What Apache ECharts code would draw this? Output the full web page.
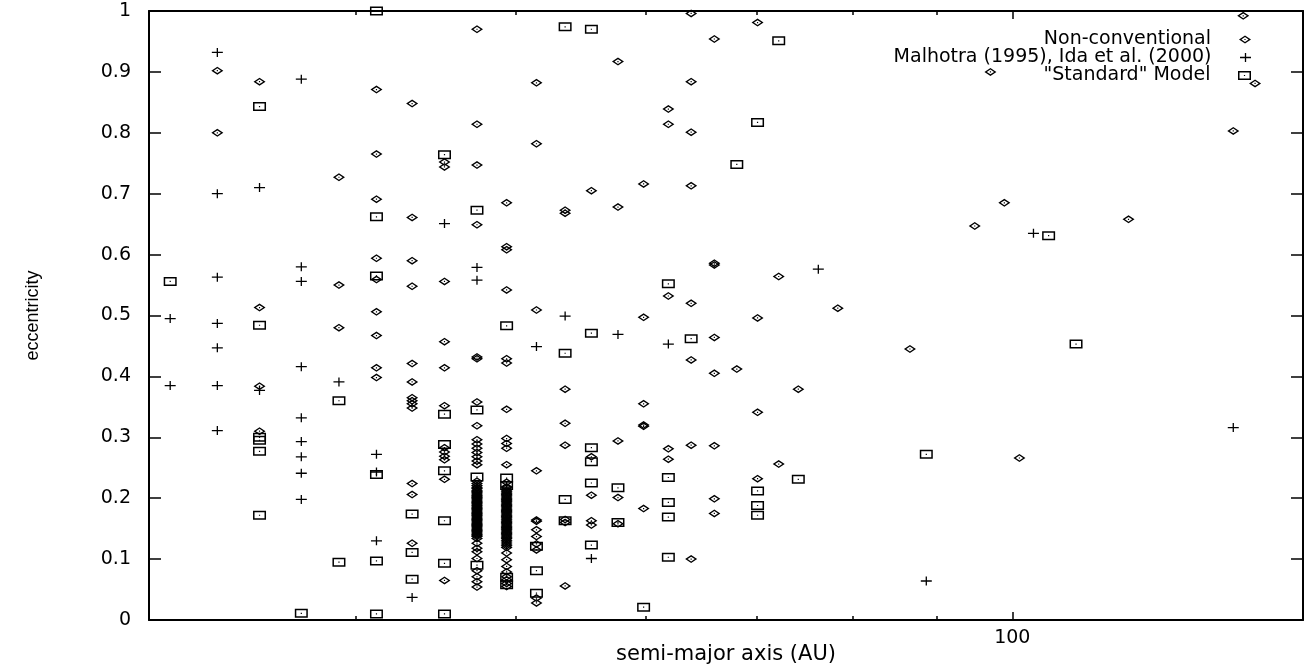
<!DOCTYPE html>
<html>
<head>
<meta charset="utf-8">
<script src="https://cdn.jsdelivr.net/npm/echarts@6/dist/echarts.min.js"></script>
<style>
  html, body { margin: 0; padding: 0; background: #fff; }
  #chart { width: 1308px; height: 670px; }
</style>
</head>
<body>
<div id="chart"></div>
<script>
// ---- Data: [semi-major axis (AU), eccentricity] ----
const nonConventional = [
  [33.0,0.902],[33.0,0.800],
  [35.0,0.884],[35.0,0.513],[35.0,0.384],[35.0,0.310],
  [39.1,0.727],[39.1,0.550],[39.1,0.480],
  [41.2,0.871],[41.2,0.765],[41.2,0.691],[41.2,0.594],[41.2,0.559],[41.2,0.506],[41.2,0.467],[41.2,0.414],[41.2,0.398],
  [43.3,0.848],[43.3,0.661],[43.3,0.590],[43.3,0.548],[43.3,0.421],[43.3,0.391],[43.3,0.365],[43.3,0.360],[43.3,0.355],[43.3,0.348],[43.3,0.224],[43.3,0.206],[43.3,0.126],
  [45.3,0.752],[45.3,0.744],[45.3,0.556],[45.3,0.457],[45.3,0.414],[45.3,0.352],[45.3,0.283],[45.3,0.276],[45.3,0.269],[45.3,0.263],[45.3,0.231],[45.3,0.065],
  [47.4,0.970],[47.4,0.814],[47.4,0.747],[47.4,0.649],[47.4,0.432],[47.4,0.429],[47.4,0.358],[47.4,0.319],[47.4,0.296],[47.4,0.289],[47.4,0.282],[47.4,0.275],[47.4,0.268],[47.4,0.261],[47.4,0.255],[47.4,0.228],
  [47.4,0.224],[47.4,0.221],[47.4,0.218],[47.4,0.216],[47.4,0.213],[47.4,0.211],[47.4,0.209],[47.4,0.207],[47.4,0.205],[47.4,0.203],[47.4,0.201],[47.4,0.199],[47.4,0.197],[47.4,0.195],[47.4,0.193],[47.4,0.191],[47.4,0.189],[47.4,0.187],[47.4,0.185],[47.4,0.183],[47.4,0.181],[47.4,0.179],[47.4,0.177],[47.4,0.175],[47.4,0.173],[47.4,0.171],[47.4,0.169],[47.4,0.167],[47.4,0.165],[47.4,0.163],[47.4,0.161],[47.4,0.159],[47.4,0.157],[47.4,0.155],[47.4,0.153],[47.4,0.151],[47.4,0.149],[47.4,0.147],[47.4,0.145],[47.4,0.143],[47.4,0.141],[47.4,0.139],[47.4,0.137],
  [47.4,0.134],[47.4,0.126],[47.4,0.118],[47.4,0.112],[47.4,0.101],[47.4,0.081],[47.4,0.071],[47.4,0.063],[47.4,0.054],
  [49.4,0.685],[49.4,0.613],[49.4,0.608],[49.4,0.542],[49.4,0.429],[49.4,0.422],[49.4,0.346],[49.4,0.298],[49.4,0.290],[49.4,0.282],[49.4,0.255],[49.4,0.226],
  [49.4,0.219],[49.4,0.217],[49.4,0.214],[49.4,0.212],[49.4,0.210],[49.4,0.208],[49.4,0.206],[49.4,0.204],[49.4,0.202],[49.4,0.200],[49.4,0.198],[49.4,0.196],[49.4,0.194],[49.4,0.192],[49.4,0.190],[49.4,0.188],[49.4,0.186],[49.4,0.184],[49.4,0.182],[49.4,0.180],[49.4,0.178],[49.4,0.176],[49.4,0.174],[49.4,0.172],[49.4,0.170],[49.4,0.168],[49.4,0.166],[49.4,0.164],[49.4,0.162],[49.4,0.160],[49.4,0.158],[49.4,0.156],[49.4,0.154],[49.4,0.152],[49.4,0.150],[49.4,0.148],[49.4,0.146],[49.4,0.144],[49.4,0.142],[49.4,0.140],[49.4,0.138],[49.4,0.136],[49.4,0.134],[49.4,0.131],[49.4,0.128],[49.4,0.125],[49.4,0.122],[49.4,0.119],
  [49.4,0.110],[49.4,0.099],[49.4,0.088],[49.4,0.079],[49.4,0.071],[49.4,0.066],[49.4,0.060],[49.4,0.055],
  [51.5,0.882],[51.5,0.782],[51.5,0.509],[51.5,0.245],[51.5,0.164],[51.5,0.162],[51.5,0.148],[51.5,0.137],[51.5,0.125],[51.5,0.115],[51.5,0.036],[51.5,0.028],
  [53.6,0.673],[53.6,0.668],[53.6,0.379],[53.6,0.323],[53.6,0.287],[53.6,0.165],[53.6,0.160],[53.6,0.056],
  [55.6,0.705],[55.6,0.268],[55.6,0.205],[55.6,0.163],[55.6,0.156],
  [57.7,0.917],[57.7,0.678],[57.7,0.294],[57.7,0.201],[57.7,0.158],
  [59.8,0.716],[59.8,0.497],[59.8,0.355],[59.8,0.320],[59.8,0.318],[59.8,0.183],
  [61.9,0.839],[61.9,0.814],[61.9,0.532],[61.9,0.281],[61.9,0.264],
  [63.9,0.996],[63.9,0.884],[63.9,0.801],[63.9,0.713],[63.9,0.520],[63.9,0.427],[63.9,0.287],[63.9,0.100],
  [66.0,0.954],[66.0,0.586],[66.0,0.583],[66.0,0.464],[66.0,0.405],[66.0,0.286],[66.0,0.199],[66.0,0.175],
  [68.1,0.412],
  [70.1,0.981],[70.1,0.496],[70.1,0.341],[70.1,0.232],
  [72.2,0.564],[72.2,0.256],
  [74.2,0.379],
  [78.4,0.512],
  [86.7,0.445],
  [94.9,0.647],
  [97.0,0.900],
  [98.9,0.685],
  [101.0,0.266],
  [117.6,0.658],
  [136.1,0.803],
  [138.0,0.992],
  [140.3,0.881]
];

const malhotraIda = [
  [30.9,0.495],[30.9,0.385],
  [33.0,0.932],[33.0,0.700],[33.0,0.563],[33.0,0.487],[33.0,0.447],[33.0,0.385],[33.0,0.311],
  [35.0,0.710],[35.0,0.377],
  [37.1,0.888],[37.1,0.580],[37.1,0.556],[37.1,0.416],[37.1,0.332],[37.1,0.293],[37.1,0.268],[37.1,0.241],[37.1,0.198],
  [39.1,0.391],
  [41.2,0.272],[41.2,0.243],[41.2,0.130],
  [43.3,0.037],
  [45.3,0.651],
  [47.4,0.579],[47.4,0.558],
  [51.5,0.449],
  [53.6,0.499],
  [55.6,0.101],
  [57.7,0.469],
  [61.9,0.453],
  [76.3,0.576],
  [88.7,0.064],
  [103.0,0.635],
  [136.1,0.316]
];

const standardModel = [
  [30.9,0.556],
  [35.0,0.843],[35.0,0.484],[35.0,0.300],[35.0,0.295],[35.0,0.277],[35.0,0.172],
  [37.1,0.011],
  [39.1,0.360],[39.1,0.095],
  [41.2,1.000],[41.2,0.662],[41.2,0.565],[41.2,0.239],[41.2,0.097],[41.2,0.010],
  [43.3,0.174],[43.3,0.111],[43.3,0.067],
  [45.3,0.764],[45.3,0.338],[45.3,0.288],[45.3,0.245],[45.3,0.163],[45.3,0.093],[45.3,0.010],
  [47.4,0.673],[47.4,0.345],[47.4,0.235],[47.4,0.090],
  [49.4,0.483],[49.4,0.233],[49.4,0.221],[49.4,0.070],[49.4,0.058],
  [51.5,0.121],[51.5,0.081],[51.5,0.044],
  [53.6,0.974],[53.6,0.438],[53.6,0.198],[53.6,0.163],
  [55.6,0.970],[55.6,0.471],[55.6,0.283],[55.6,0.260],[55.6,0.225],[55.6,0.123],
  [57.7,0.217],[57.7,0.160],
  [59.8,0.021],
  [61.9,0.552],[61.9,0.234],[61.9,0.193],[61.9,0.169],[61.9,0.103],
  [63.9,0.462],
  [68.1,0.748],
  [70.1,0.817],[70.1,0.212],[70.1,0.188],[70.1,0.172],
  [72.2,0.951],
  [74.2,0.231],
  [88.7,0.272],
  [105.2,0.631],
  [109.3,0.453]
];

const seriesNames = ['Non-conventional', 'Malhotra (1995), Ida et al. (2000)', '"Standard" Model'];
const xLabelTicks = [100];
const xMinorTicks = [40, 50, 60, 70, 80, 90];
const xRange = [30, 150];
const yRange = [0, 1];
const yStep = 0.1;

// ---- Marker shapes (gnuplot-like hollow symbols with centre dot) ----
const diamondPath = 'path://M0,-4L6,0L0,4L-6,0ZM0,-2.4L-3.6,0L0,2.4L3.6,0ZM-0.6,-0.6L0.6,-0.6L0.6,0.6L-0.6,0.6Z';
const squarePath  = 'path://M-6.5,-4.5L6.5,-4.5L6.5,4.5L-6.5,4.5ZM-5.0,-3.0L-5.0,3.0L5.0,3.0L5.0,-3.0ZM-0.6,-0.6L0.6,-0.6L0.6,0.6L-0.6,0.6Z';
const plusPath    = 'path://M-5.5,-0.65L-0.65,-0.65L-0.65,-4.5L0.65,-4.5L0.65,-0.65L5.5,-0.65L5.5,0.65L0.65,0.65L0.65,4.5L-0.65,4.5L-0.65,0.65L-5.5,0.65Z';

const FONT = 'DejaVu Sans';
const chart = echarts.init(document.getElementById('chart'), null, { renderer: 'canvas' });

function xAxisDef(pos, major, showLine) {
  return {
    type: 'log', logBase: 10, min: xRange[0], max: xRange[1], position: pos,
    axisLine: { show: showLine, onZero: false, lineStyle: { color: '#000', width: 2 } },
    axisTick: { show: true, inside: true, length: major ? 8 : 4,
                customValues: major ? xLabelTicks : xMinorTicks,
                lineStyle: { color: '#000', width: 1.5 } },
    axisLabel: { show: false },
    minorTick: { show: false }, splitLine: { show: false }, minorSplitLine: { show: false }
  };
}

const xBottom = xAxisDef('bottom', true, true);
xBottom.axisLabel = { show: true, customValues: xLabelTicks, margin: 9, color: '#000', fontFamily: FONT, fontSize: 19 };
xBottom.name = 'semi-major axis (AU)';
xBottom.nameLocation = 'middle';
xBottom.nameGap = 24;
xBottom.nameMoveOverlap = false;
xBottom.nameTextStyle = { color: '#000', fontFamily: FONT, fontSize: 21 };

function yAxisDef(pos, labels) {
  const a = {
    type: 'value', min: yRange[0], max: yRange[1], interval: yStep, position: pos,
    axisLine: { show: true, onZero: false, lineStyle: { color: '#000', width: 2 } },
    axisTick: { show: true, inside: true, length: 12, lineStyle: { color: '#000', width: 1.5 } },
    axisLabel: { show: labels, margin: 18, color: '#000', fontFamily: FONT, fontSize: 19 },
    splitLine: { show: false }
  };
  if (labels) {
    a.name = 'eccentricity';
    a.nameLocation = 'middle';
    a.nameGap = 107;
    a.nameMoveOverlap = false;
    a.nameTextStyle = { color: '#000', fontFamily: 'Liberation Sans', fontSize: 18 };
  }
  return a;
}

const icons = [diamondPath, plusPath, squarePath];
const iconSizes = [[58, 8], [58, 9], [58, 9]];
const legends = seriesNames.map((n, i) => ({
  data: [n], orient: 'vertical', right: 57, top: 30 + 18 * i, align: 'right',
  icon: icons[i], itemWidth: iconSizes[i][0], itemHeight: iconSizes[i][1],
  itemGap: 0, padding: 0, selectedMode: false,
  textStyle: { color: '#000', fontFamily: FONT, fontSize: 19 }
}));

const seriesData = [nonConventional, malhotraIda, standardModel];
const symSizes = [[12, 8], [11, 9], [13, 9]];

const option = {
  backgroundColor: '#fff',
  animation: false,
  grid: { left: 149, right: 5, top: 11, bottom: 50, containLabel: false, outerBoundsMode: 'none' },
  legend: legends,
  xAxis: [xBottom, xAxisDef('bottom', false, false), xAxisDef('top', true, true), xAxisDef('top', false, false)],
  yAxis: [yAxisDef('left', true), yAxisDef('right', false)],
  series: seriesNames.map((n, i) => ({
    name: n, type: 'scatter', xAxisIndex: 0, yAxisIndex: 0,
    data: seriesData[i], symbol: icons[i], symbolSize: symSizes[i],
    clip: false,
    itemStyle: { color: '#000', borderWidth: 0, opacity: 1 },
    emphasis: { disabled: true }
  }))
};
chart.setOption(option);
</script>
</body>
</html>
